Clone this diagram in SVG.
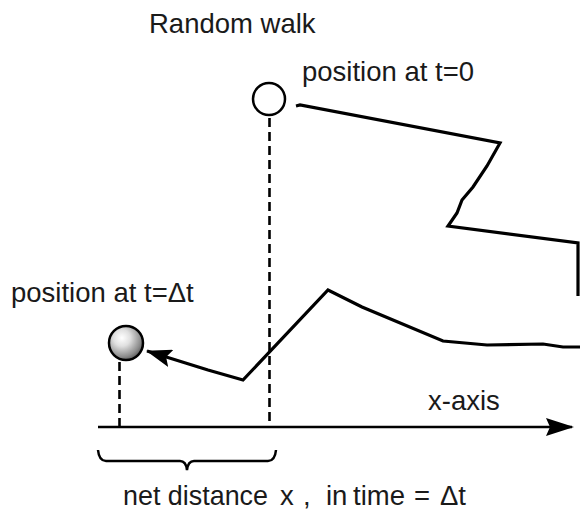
<svg xmlns="http://www.w3.org/2000/svg" width="580" height="520" viewBox="0 0 580 520">
<style>
text{font-family:"Liberation Sans",Arial,sans-serif;font-size:27.5px;fill:#1a1a1a}
.walk{fill:none;stroke:#000;stroke-width:3.2;stroke-linejoin:miter;stroke-linecap:butt}
.dash{fill:none;stroke:#000;stroke-width:2.6;stroke-dasharray:9 5}
.line{fill:none;stroke:#000;stroke-width:2.5}
</style>
<defs>
<radialGradient id="ballg" cx="0.38" cy="0.35" r="0.7">
<stop offset="0" stop-color="#ffffff"/>
<stop offset="0.35" stop-color="#e0e0e0"/>
<stop offset="0.8" stop-color="#8a8a8a"/>
<stop offset="1" stop-color="#555"/>
</radialGradient>
<marker id="ah" markerWidth="26" markerHeight="18" refX="25" refY="9" orient="auto" markerUnits="userSpaceOnUse" viewBox="0 0 26 18">
<path d="M0,0 L26,9 L0,18 L5,9 Z" fill="#000"/>
</marker>
<marker id="ah2" markerWidth="28" markerHeight="18" refX="26" refY="9" orient="auto" markerUnits="userSpaceOnUse" viewBox="0 0 28 18">
<path d="M0,0 L28,9 L0,18 L4,9 Z" fill="#000"/>
</marker>
</defs>
<g id="title"><text x="149" y="33">Random walk</text></g>
<g id="start">
<circle cx="269" cy="99" r="16" fill="#fff" stroke="#000" stroke-width="2.5"/>
<text x="302" y="81">position at t=0</text>
</g>
<g id="end">
<circle cx="126" cy="343" r="17" fill="url(#ballg)" stroke="#000" stroke-width="2.5"/>
<text x="11" y="302">position at t=Δt</text>
</g>
<g id="axis">
<line class="line" x1="98" y1="427" x2="572" y2="427" marker-end="url(#ah2)"/>
<text x="428" y="410">x-axis</text>
</g>
<g id="connectors">
<path class="walk" d="M296,106 L300,105 L500,143 L487,166 L473,187 L462,200 L457,213 L448,226 L578,243 L578,296"/>
<path class="walk" d="M582,347 L563,347 L543,344 L487,345 L443,341 L362,307 L328,290 L243,380 L208,370 L147,351" marker-end="url(#ah)"/>
<line class="dash" x1="269.5" y1="118" x2="269.5" y2="427"/>
<line class="dash" x1="119.5" y1="362" x2="119.5" y2="427"/>
<path class="line" d="M98,450 Q99,461 106,461 L180,461 Q186,461 187,470 Q188,461 194,461 L268,461 Q275,461 276,450"/>
</g>
<g id="caption"><text x="123" y="505"><tspan textLength="145" lengthAdjust="spacingAndGlyphs">net distance</tspan><tspan x="280">x</tspan><tspan x="303">,</tspan><tspan x="326">in</tspan><tspan x="353">time</tspan><tspan x="414">=</tspan><tspan x="440">Δt</tspan></text></g>
</svg>
